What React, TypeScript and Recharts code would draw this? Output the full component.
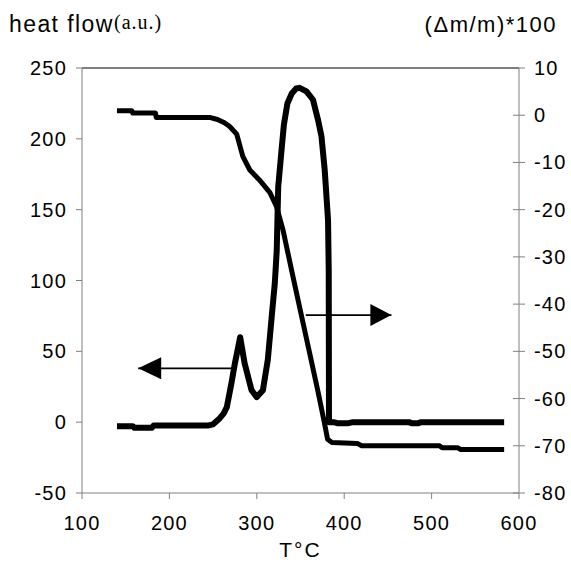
import React from 'react';
import { LineChart, Line, XAxis, YAxis, ReferenceLine, ReferenceDot } from 'recharts';

// Heat flow (DSC) curve, left axis
const dscT = [140, 158, 160, 180, 182, 245, 250, 257.7, 262, 265.7, 271, 275, 281, 286, 294, 300, 307, 312.6, 317, 320.6, 322.8, 323.5, 324.5, 328.6, 331, 335, 340, 345, 349, 356.8, 364.3, 370, 374, 377.7, 381.5, 382.3, 382.6, 388, 392, 405, 410, 474, 477, 485, 488, 583];
const dscV = [-2.8, -2.8, -4, -4, -2.3, -2.3, -1.5, 2.8, 6, 10.6, 27.6, 41.7, 60, 41.7, 22.6, 17.7, 22.6, 44, 74, 98, 121, 140, 166, 194, 210, 225, 232, 235.5, 236, 233.5, 227.6, 213.5, 201.7, 178, 142.8, 107, 0, 0, -0.7, -0.7, 0, 0, -0.7, -0.7, 0, 0];

// Mass loss (TG) curve, right axis
const tgT = [140, 157, 158, 184, 185, 246, 255, 263, 269, 277, 284, 292, 303, 315, 322.5, 330, 340, 350, 360, 370, 377, 381, 386, 415, 420, 509, 512, 530, 533, 583];
const tgV = [0.95, 0.95, 0.47, 0.47, -0.47, -0.47, -0.9, -1.6, -2.4, -4.0, -8.7, -11.6, -13.7, -16.4, -19.3, -24.3, -33, -41.5, -50, -58.5, -64.8, -68.6, -69.3, -69.5, -70, -70, -70.4, -70.4, -70.8, -70.8];

const xTicks = [100, 200, 300, 400, 500, 600];
const leftTicks = [-50, 0, 50, 100, 150, 200, 250];
const rightTicks = [-80, -70, -60, -50, -40, -30, -20, -10, 0, 10];

// Arrow annotations (data coordinates, left axis)
const leftArrow = { from: 272.6, to: 164.3, y: 38 };
const rightArrow = { from: 356, to: 454, y: 75.6 };

const dscData = dscT.map((t, i) => ({ T: t, v: dscV[i] }));
const tgData = tgT.map((t, i) => ({ T: t, v: tgV[i] }));

const FONT = '"Liberation Sans", Arial, sans-serif';
const GREY = '#808080';

const LeftTick = (props: any) => {
  const { x, y, payload } = props;
  return (
    <text x={x} y={y} dy="0.35em" textAnchor="end" fontFamily={FONT} fontSize={20} letterSpacing={1.2} fill="#000">
      {payload.value}
    </text>
  );
};

const RightTick = (props: any) => {
  const { x, y, payload } = props;
  const ax = x - 15;
  return (
    <g>
      <line x1={ax - 6} x2={ax + 6} y1={y} y2={y} stroke={GREY} strokeWidth={1} />
      <text x={x} y={y} dy="0.35em" textAnchor="start" fontFamily={FONT} fontSize={20} letterSpacing={1.2} fill="#000">
        {payload.value}
      </text>
    </g>
  );
};

const BottomTick = (props: any) => {
  const { x, y, payload } = props;
  return (
    <text x={x} y={y} dy="0.71em" textAnchor="middle" fontFamily={FONT} fontSize={20} letterSpacing={1.2} fill="#000">
      {payload.value}
    </text>
  );
};

const leftHead = (p: any) => (
  <path d={`M${p.cx},${p.cy} L${p.cx + 23},${p.cy - 11} L${p.cx + 23},${p.cy + 11} Z`} fill="#000" />
);
const rightHead = (p: any) => (
  <path d={`M${p.cx},${p.cy} L${p.cx - 21},${p.cy - 11} L${p.cx - 21},${p.cy + 11} Z`} fill="#000" />
);

export default function App() {
  return (
    <div style={{ position: 'absolute', left: 0, top: 0, width: 571, height: 562, background: '#fff' }}>
      <LineChart width={571} height={562} margin={{ top: 68, right: 0, bottom: 0, left: 0 }}>
        <XAxis
          type="number"
          dataKey="T"
          domain={[100, 600]}
          ticks={xTicks}
          height={69}
          stroke={GREY}
          tickSize={6}
          tickMargin={17}
          tick={<BottomTick />}
          allowDataOverflow
          label={{ value: 'T°C', position: 'insideBottom', offset: 5, fontFamily: FONT, fontSize: 21, letterSpacing: 2, fill: '#000' }}
        />
        <YAxis
          yAxisId="left"
          orientation="left"
          domain={[-50, 250]}
          ticks={leftTicks}
          width={82}
          stroke={GREY}
          tickSize={6}
          tickMargin={9}
          tick={<LeftTick />}
          allowDataOverflow
        />
        <YAxis
          yAxisId="right"
          orientation="right"
          domain={[-80, 10]}
          ticks={rightTicks}
          width={52}
          stroke={GREY}
          tickSize={6}
          tickMargin={9}
          tickLine={false}
          tick={<RightTick />}
          allowDataOverflow
        />
        <ReferenceLine yAxisId="left" y={250} stroke="#000" strokeWidth={1.2} />
        <Line
          yAxisId="right"
          data={tgData}
          dataKey="v"
          type="linear"
          stroke="#000"
          strokeWidth={5}
          strokeLinejoin="round"
          dot={false}
          isAnimationActive={false}
        />
        <Line
          yAxisId="left"
          data={dscData}
          dataKey="v"
          type="linear"
          stroke="#000"
          strokeWidth={6}
          strokeLinejoin="round"
          dot={false}
          isAnimationActive={false}
        />
        <ReferenceLine
          yAxisId="left"
          segment={[{ x: leftArrow.to, y: leftArrow.y }, { x: leftArrow.from, y: leftArrow.y }]}
          stroke="#000"
          strokeWidth={1.7}
        />
        <ReferenceDot yAxisId="left" x={leftArrow.to} y={leftArrow.y} shape={leftHead} />
        <ReferenceLine
          yAxisId="left"
          segment={[{ x: rightArrow.from, y: rightArrow.y }, { x: rightArrow.to, y: rightArrow.y }]}
          stroke="#000"
          strokeWidth={1.7}
        />
        <ReferenceDot yAxisId="left" x={rightArrow.to} y={rightArrow.y} shape={rightHead} />
      </LineChart>
      <svg width={571} height={50} style={{ position: 'absolute', left: 0, top: 0, pointerEvents: 'none' }}>
        <text x={9} y={32} fontFamily={FONT} fontSize={23} letterSpacing={1.4} fill="#000">heat flow</text>
        <text x={114} y={29} fontFamily='"Liberation Serif", "Times New Roman", serif' fontSize={20} letterSpacing={1} fill="#000">(a.u.)</text>
        <text x={557} y={32} textAnchor="end" fontFamily={FONT} fontSize={22} letterSpacing={1.5} fill="#000">(Δm/m)*100</text>
      </svg>
    </div>
  );
}
